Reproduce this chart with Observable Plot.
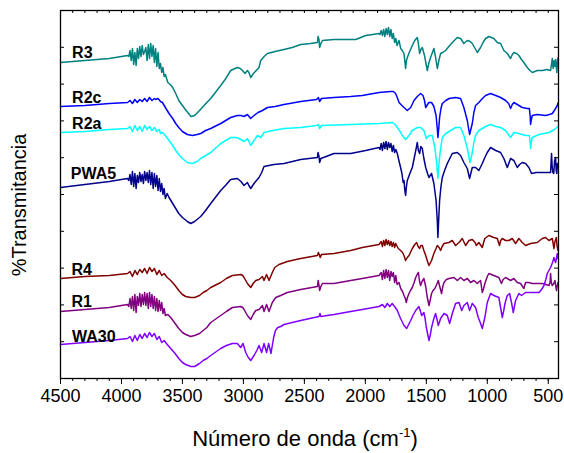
<!DOCTYPE html>
<html><head><meta charset="utf-8">
<script src="https://cdn.jsdelivr.net/npm/d3@7"></script>
<script src="https://cdn.jsdelivr.net/npm/@observablehq/plot@0.6"></script>
<style>body{margin:0;background:#fff;} svg{display:block;}</style>
</head><body>
<div id="chart"></div>
<script>
// Spectra: [wavenumber cm-1, transmittance (arbitrary offset units)]
const R3 = [[4500,316],[4300,318],[4100,320],[3950,323],[3940,322],[3930,328],[3920,318],[3910,330],[3900,314],[3890,326],[3880,313],[3870,330],[3860,320],[3850,332],[3840,322],[3830,333],[3820,324],[3810,327],[3800,331],[3790,318],[3780,334],[3770,320],[3760,335],[3750,322],[3740,333],[3730,316],[3720,330],[3710,312],[3700,326],[3690,310],[3680,315],[3670,306],[3660,311],[3650,302],[3640,304],[3620,296],[3600,294],[3580,291],[3555,285],[3530,278],[3500,273],[3470,268],[3430,262],[3400,263],[3360,268],[3330,272],[3300,276],[3268,280],[3230,286],[3186,293],[3150,299],[3104,308],[3070,310],[3050,311],[3025,310],[3008,308],[2987,305],[2967,308],[2955,306],[2940,301],[2918,305],[2895,308],[2872,311],[2858,318],[2830,322],[2803,325],[2740,327],[2667,329],[2600,331],[2530,334],[2450,335],[2393,336],[2388,342],[2380,339],[2375,331],[2365,335],[2352,338],[2257,339],[2160,339],[2078,339],[1997,343],[1940,344],[1888,345],[1880,344],[1870,348],[1860,343],[1850,349],[1840,342],[1830,350],[1820,344],[1810,351],[1800,342],[1790,349],[1780,340],[1770,345],[1760,336],[1750,340],[1740,333],[1724,338],[1710,330],[1697,328],[1683,325],[1675,316],[1670,310],[1663,318],[1656,321],[1640,326],[1615,333],[1595,338],[1574,341],[1565,335],[1555,325],[1545,329],[1533,331],[1515,323],[1492,308],[1480,315],[1465,321],[1450,326],[1438,330],[1425,322],[1410,310],[1397,318],[1383,325],[1365,326],[1342,328],[1315,332],[1287,336],[1246,341],[1219,340],[1192,335],[1164,338],[1140,337],[1123,335],[1100,330],[1082,326],[1055,331],[1035,336],[1014,340],[987,342],[946,340],[918,336],[891,335],[864,328],[836,325],[809,320],[795,324],[782,326],[760,325],[741,323],[720,319],[700,316],[672,311],[650,308],[631,306],[610,307],[590,308],[549,308],[508,309],[481,308],[467,320],[460,310],[452,318],[445,312],[438,319],[430,306],[425,315],[420,321]];
const R2c = [[4500,272],[4300,273],[4100,275],[3950,276],[3930,278],[3910,275],[3890,279],[3870,276],[3850,279],[3830,277],[3810,280],[3790,277],[3770,281],[3750,278],[3730,280],[3720,279],[3700,280],[3680,277],[3664,276],[3640,271],[3610,265],[3580,260],[3555,255],[3530,251],[3500,247],[3460,244],[3418,243],[3380,244],[3350,245],[3310,248],[3268,250],[3186,255],[3104,261],[3050,263],[3020,263],[2995,262],[2967,264],[2940,260],[2913,263],[2880,266],[2844,268],[2803,271],[2740,272],[2667,274],[2530,277],[2400,279],[2385,281],[2375,277],[2360,280],[2257,281],[2120,282],[2025,283],[1888,286],[1793,287],[1770,287],[1752,285],[1738,281],[1724,276],[1700,273],[1683,271],[1656,268],[1628,271],[1601,278],[1574,282],[1547,285],[1527,283],[1515,278],[1505,271],[1490,274],[1478,276],[1457,276],[1438,272],[1420,263],[1410,250],[1405,241],[1398,250],[1391,261],[1380,270],[1369,275],[1340,278],[1314,280],[1260,281],[1219,280],[1192,271],[1164,258],[1145,244],[1123,255],[1110,266],[1096,273],[1069,276],[1040,280],[1014,283],[973,285],[931,283],[891,281],[850,278],[825,275],[809,270],[795,274],[782,276],[754,274],[713,271],[672,270],[655,270],[648,262],[645,254],[640,258],[631,263],[590,264],[522,263],[490,264],[467,265],[445,269],[426,273],[418,276]];
const R2a = [[4500,246],[4300,247],[4100,249],[3950,250],[3930,252],[3910,247],[3890,253],[3870,248],[3850,252],[3830,247],[3810,253],[3790,249],[3770,252],[3750,248],[3730,251],[3710,247],[3690,249],[3680,245],[3664,246],[3640,243],[3610,238],[3580,233],[3555,228],[3530,224],[3500,220],[3460,216],[3418,215],[3380,217],[3350,220],[3310,223],[3268,226],[3186,235],[3104,241],[3060,241],[3035,240],[2995,237],[2967,240],[2940,233],[2913,238],[2885,243],[2858,241],[2831,246],[2760,248],[2667,250],[2530,251],[2400,253],[2385,254],[2375,250],[2360,253],[2120,254],[1888,255],[1778,256],[1755,254],[1738,251],[1715,247],[1697,243],[1670,239],[1642,243],[1615,248],[1574,251],[1547,251],[1520,248],[1500,240],[1478,243],[1451,243],[1430,231],[1415,215],[1405,200],[1398,212],[1388,225],[1369,241],[1340,245],[1314,247],[1260,251],[1219,251],[1192,243],[1164,230],[1141,216],[1123,226],[1110,236],[1096,243],[1069,248],[1014,252],[973,254],[931,252],[891,251],[850,248],[809,241],[782,246],[741,245],[686,243],[655,243],[648,236],[645,230],[640,236],[631,241],[576,244],[494,246],[450,249],[420,252]];
const PWA5 = [[4500,191],[4300,194],[4100,197],[3950,200],[3940,198],[3930,204],[3920,194],[3910,207],[3900,192],[3890,205],[3880,190],[3870,203],[3860,196],[3850,206],[3840,197],[3830,204],[3820,195],[3810,207],[3800,198],[3790,206],[3780,196],[3770,208],[3760,194],[3750,206],[3740,190],[3730,205],[3720,192],[3710,203],[3700,188],[3690,200],[3680,187],[3670,195],[3660,184],[3650,190],[3640,180],[3625,185],[3610,181],[3580,175],[3555,170],[3530,165],[3500,161],[3460,157],[3432,155],[3400,157],[3350,162],[3310,168],[3268,175],[3230,181],[3186,188],[3140,194],[3104,199],[3050,200],[3020,197],[2995,193],[2967,196],[2955,193],[2940,190],[2913,195],[2872,201],[2850,206],[2831,212],[2750,214],[2667,215],[2530,219],[2393,221],[2388,226],[2380,222],[2375,216],[2365,220],[2257,225],[2120,225],[1997,228],[1888,231],[1880,229],[1870,235],[1860,228],[1850,236],[1840,230],[1830,237],[1820,229],[1810,236],[1800,231],[1790,235],[1780,227],[1770,233],[1760,226],[1750,229],[1738,225],[1725,218],[1711,211],[1700,205],[1690,196],[1683,198],[1676,188],[1670,183],[1663,192],[1656,198],[1635,205],[1615,211],[1600,220],[1590,226],[1580,232],[1574,236],[1565,228],[1555,225],[1545,232],[1533,230],[1520,220],[1505,211],[1490,205],[1478,201],[1457,205],[1438,195],[1420,178],[1410,158],[1405,141],[1398,160],[1391,178],[1380,192],[1369,201],[1350,208],[1328,215],[1287,225],[1246,226],[1219,223],[1192,216],[1164,210],[1145,200],[1123,211],[1096,211],[1069,208],[1041,215],[1020,221],[1000,226],[973,231],[931,228],[891,226],[864,220],[836,211],[809,220],[782,218],[754,211],[735,214],[713,216],[686,215],[659,211],[637,205],[600,206],[560,206],[522,206],[481,206],[476,218],[473,225],[468,212],[462,206],[455,205],[448,218],[440,221],[435,208],[430,205],[425,215],[420,211]];
const R4 = [[4500,100],[4300,102],[4100,103],[3950,105],[3930,107],[3910,102],[3890,108],[3870,104],[3850,109],[3830,106],[3810,110],[3790,105],[3770,111],[3750,107],[3730,110],[3710,104],[3690,108],[3670,103],[3650,105],[3625,101],[3596,98],[3560,93],[3530,88],[3500,84],[3473,82],[3432,81],[3400,81],[3360,83],[3330,86],[3300,88],[3268,91],[3186,96],[3140,100],[3090,103],[3022,104],[3005,103],[2995,101],[2967,95],[2940,91],[2920,95],[2899,98],[2872,99],[2844,102],[2831,98],[2810,104],[2790,98],[2763,106],[2743,111],[2708,114],[2640,117],[2530,120],[2393,123],[2385,126],[2378,124],[2370,121],[2360,124],[2257,125],[2120,128],[2025,131],[1888,134],[1870,137],[1860,132],[1850,138],[1840,133],[1830,139],[1820,134],[1810,138],[1800,133],[1790,137],[1780,132],[1770,136],[1760,131],[1751,135],[1730,130],[1711,128],[1695,126],[1683,123],[1670,118],[1656,121],[1642,123],[1615,130],[1595,134],[1580,136],[1567,132],[1555,130],[1545,133],[1533,133],[1520,128],[1505,123],[1490,117],[1478,113],[1457,118],[1438,125],[1420,130],[1410,133],[1395,131],[1383,128],[1370,132],[1355,135],[1314,136],[1287,138],[1260,133],[1232,136],[1205,140],[1178,133],[1150,138],[1123,139],[1100,136],[1090,133],[1069,136],[1041,131],[1030,136],[1020,140],[987,143],[946,141],[918,140],[900,133],[890,138],[877,140],[850,138],[823,138],[795,140],[768,135],[741,140],[713,136],[686,133],[645,135],[590,136],[549,140],[522,141],[494,138],[467,140],[453,130],[445,137],[434,141],[427,132],[420,128]];
const R1 = [[4500,67],[4300,69],[4100,71],[3950,74],[3940,72],[3930,80],[3920,70],[3910,82],[3900,68],[3890,84],[3880,66],[3870,82],[3860,73],[3850,85],[3840,72],[3830,84],[3820,74],[3810,86],[3800,73],[3790,85],[3780,70],[3770,86],[3760,72],[3750,84],[3740,70],[3730,82],[3720,68],[3710,80],[3700,67],[3690,78],[3680,68],[3670,76],[3660,65],[3650,70],[3640,63],[3620,64],[3596,61],[3560,55],[3530,50],[3500,46],[3473,44],[3432,42],[3400,43],[3360,45],[3330,48],[3300,51],[3268,56],[3186,63],[3140,67],[3090,71],[3022,72],[3005,71],[2995,69],[2967,63],[2940,59],[2920,64],[2899,68],[2872,69],[2844,73],[2831,67],[2810,74],[2790,67],[2763,76],[2735,81],[2694,83],[2640,86],[2530,89],[2393,92],[2387,98],[2380,93],[2375,88],[2365,92],[2352,95],[2257,95],[2120,98],[2025,100],[1888,103],[1870,106],[1860,99],[1850,108],[1840,100],[1830,109],[1820,101],[1810,108],[1800,98],[1790,107],[1780,102],[1770,106],[1760,96],[1750,103],[1740,94],[1724,96],[1710,90],[1695,87],[1683,83],[1672,80],[1664,76],[1655,81],[1642,85],[1630,88],[1615,91],[1600,96],[1587,101],[1575,104],[1565,106],[1555,97],[1547,93],[1535,97],[1520,100],[1505,92],[1492,81],[1478,73],[1467,79],[1457,85],[1445,88],[1430,90],[1415,94],[1402,98],[1390,92],[1375,85],[1365,92],[1355,96],[1335,99],[1314,100],[1273,101],[1246,98],[1219,101],[1192,98],[1164,100],[1137,96],[1110,98],[1082,95],[1065,97],[1055,98],[1041,86],[1030,90],[1020,95],[1000,102],[987,105],[946,103],[905,101],[884,95],[870,99],[850,101],[809,98],[782,100],[754,96],[727,95],[700,90],[686,96],[660,96],[631,95],[590,95],[549,95],[520,94],[494,93],[485,96],[481,105],[475,96],[467,93],[455,95],[445,98],[438,92],[432,88],[426,93],[420,96]];
const WA30 = [[4500,34],[4300,36],[4100,38],[3950,40],[3930,42],[3910,37],[3890,43],[3870,38],[3850,44],[3830,40],[3810,45],[3790,41],[3770,46],[3750,42],[3730,45],[3710,39],[3690,42],[3670,36],[3650,38],[3625,34],[3596,30],[3560,25],[3530,20],[3500,16],[3473,14],[3432,12],[3400,12],[3360,15],[3330,18],[3300,20],[3268,23],[3186,30],[3140,33],[3090,35],[3050,35],[3022,31],[3003,35],[2981,26],[2960,21],[2940,18],[2913,23],[2890,28],[2872,33],[2850,26],[2831,35],[2810,26],[2793,35],[2774,25],[2752,41],[2737,48],[2718,51],[2694,52],[2667,54],[2530,58],[2380,62],[2372,65],[2365,62],[2257,64],[2120,67],[2025,69],[1888,72],[1860,74],[1840,71],[1820,75],[1800,72],[1780,75],[1760,72],[1738,68],[1711,60],[1683,53],[1661,50],[1645,54],[1628,58],[1610,63],[1587,68],[1561,72],[1550,68],[1538,63],[1520,66],[1510,60],[1500,51],[1478,38],[1467,44],[1457,51],[1438,60],[1424,65],[1412,59],[1402,53],[1393,56],[1383,60],[1355,65],[1328,63],[1309,55],[1298,60],[1287,65],[1260,75],[1232,76],[1210,68],[1192,73],[1164,76],[1145,68],[1123,75],[1096,71],[1074,61],[1055,55],[1041,50],[1020,61],[1000,76],[973,85],[946,83],[905,81],[891,71],[877,61],[865,68],[855,75],[836,83],[817,85],[800,75],[787,66],[768,78],[741,85],[719,83],[686,86],[631,86],[576,86],[555,89],[535,93],[520,99],[508,105],[495,108],[481,111],[465,116],[453,121],[446,118],[440,116],[433,120],[426,125],[420,120]];

const seriesNames = ["R3", "R2c", "R2a", "PWA5", "R4", "R1", "WA30"];
const seriesData = [R3, R2c, R2a, PWA5, R4, R1, WA30];
const seriesColors = ["#008080", "#0000ff", "#00ffff", "#00008b", "#800000", "#800080", "#8000ff"];
// label anchor points (wavenumber, transmittance)
const labelW = [4405, 4405, 4405, 4415, 4410, 4410, 4405];
const labelT = [326, 281, 255, 205, 109, 77, 42];

const xMajor = [4500, 4000, 3500, 3000, 2500, 2000, 1500, 1000, 500];
const xMinor = d3.range(4500, 416, -100);
const yTicks = d3.range(0, 369, 36.8);

const lineData = seriesNames.flatMap((s, i) => seriesData[i].map(([w, t]) => ({s, w, t})));
const labels = seriesNames.map((s, i) => ({s, w: labelW[i], t: labelT[i]}));

const chart = Plot.plot({
  width: 564, height: 453,
  marginLeft: 60, marginRight: 6, marginTop: 10, marginBottom: 75,
  style: {fontFamily: "Arial, 'Liberation Sans', sans-serif", background: "#fff", color: "#000"},
  x: {domain: [4500, 416]},
  y: {domain: [0, 368], axis: null},
  color: {domain: seriesNames, range: seriesColors},
  marks: [
    Plot.line(lineData, {x: "w", y: "t", z: "s", stroke: "s", strokeWidth: 1.5}),
    Plot.text(labels, {x: "w", y: "t", text: "s", textAnchor: "start", fontWeight: "bold", fontSize: 16, fill: "#000"}),
    Plot.axisX({ticks: xMajor, tickSize: 6, tickPadding: 5, tickFormat: d => String(d), fontSize: 18, label: null}),
    Plot.axisX({ticks: xMinor, tickSize: 3, tickFormat: () => "", label: null}),
    Plot.tickX(xMinor, {x: d => d, insetBottom: 365, stroke: "#000"}),
    Plot.tickY(yTicks, {y: d => d, insetRight: 494, stroke: "#000"}),
    Plot.tickY(yTicks, {y: d => d, insetLeft: 494, stroke: "#000"}),
    Plot.frame({stroke: "#000", strokeWidth: 1.3})
  ]
});

const svg = d3.select(chart);
svg.append("text")
  .attr("transform", "translate(26,205) rotate(-90)")
  .attr("text-anchor", "middle")
  .attr("font-size", 20)
  .attr("font-family", "Arial, 'Liberation Sans', sans-serif")
  .text("%Transmitancia");
const xl = svg.append("text")
  .attr("x", 305).attr("y", 446)
  .attr("text-anchor", "middle")
  .attr("font-size", 22)
  .attr("font-family", "Arial, 'Liberation Sans', sans-serif");
xl.append("tspan").text("Número de onda (cm");
xl.append("tspan").attr("dy", -9).attr("font-size", 13).text("-1");
xl.append("tspan").attr("dy", 9).text(")");

document.getElementById("chart").append(chart);
</script>
</body></html>
